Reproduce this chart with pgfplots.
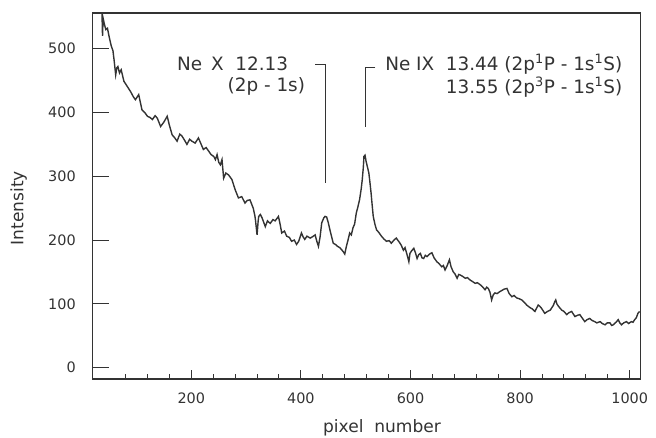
\documentclass[border=0pt]{standalone}
\usepackage{fontspec}
\setmainfont{DejaVu Sans}
\usepackage{pgfplots}
\pgfplotsset{compat=1.18}
\definecolor{ink}{gray}{0.2}

\begin{document}
\begin{tikzpicture}
\begin{axis}[
    scale only axis,
    width=411pt, height=274.5pt,
    xmin=20, xmax=1020,
    ymin=-18, ymax=556,
    axis line style={ink, line width=0.8pt},
    xtick={200,400,...,1000},
    minor xtick={80,120,...,960},
    ytick={0,100,...,500},
    xtick pos=bottom, ytick pos=left,
    tick align=inside,
    tick style={ink, line width=0.75pt},
    xtick style={/pgfplots/major tick length=6.75pt, /pgfplots/minor tick length=3.5pt},
    ytick style={/pgfplots/major tick length=12pt},
    /pgf/number format/assume math mode=true,
    /pgf/number format/1000 sep={},
    ticklabel style={font=\fontsize{10.8}{13}\selectfont, text=ink, inner sep=0pt},
    yticklabel style={xshift=-12.5pt},
    xticklabel style={yshift=-10.5pt},
    xlabel={pixel\ \ number},
    ylabel={Intensity},
    label style={font=\fontsize{12.8}{15}\selectfont, text=ink},
    xlabel style={at={(axis description cs:0.528,-0.1475)}, anchor=base},
    ylabel style={at={(axis description cs:-0.1265,0.467)}, anchor=base},
]
\addplot[ink, line width=1.05pt] coordinates {
(37,556) (38,520) (39,548) (41,540) (44,530) (47,532) (50,519) (54,504)
(57,497) (59,483) (62,459) (64,470) (66,472) (69,462) (72,467) (77,449)
(83,441) (89,433) (94,425) (98,420) (104,428) (110,404) (115,400) (120,394)
(125,392) (129,389) (134,395) (138,391) (144,378) (150,385) (156,394) (160,380)
(165,365) (170,360) (174,355) (179,366) (183,363) (188,356) (192,350) (197,358)
(201,355) (207,352) (213,360) (218,350) (222,342) (227,345) (232,339) (236,334)
(241,331) (244,326) (247,334) (250,322) (253,318) (256,326) (259,297) (263,305)
(268,302) (274,295) (280,279) (286,266) (292,268) (298,258) (302,262) (307,263)
(313,250) (316,238) (317,232) (320,208) (322,230) (323,237) (326,240) (329,235)
(332,228) (335,221) (339,230) (344,226) (349,232) (353,230) (359,237) (362,225)
(365,211) (370,214) (374,206) (379,204) (383,198) (388,200) (392,193) (396,198)
(401,211) (404,205) (407,201) (411,206) (417,203) (421,205) (426,208) (429,198)
(432,190) (435,205) (438,227) (442,235) (444,237) (447,236) (450,227) (454,212)
(459,195) (463,193) (467,190) (471,188) (477,182) (480,178) (483,190) (486,200)
(489,211) (492,208) (495,219) (498,225) (501,242) (504,252) (507,263) (510,280)
(512,295) (514,315) (515,331) (517,333) (519,323) (521,316) (524,305) (526,290)
(528,274) (530,255) (532,237) (535,225) (538,216) (542,212) (547,206) (551,202)
(556,198) (561,199) (565,195) (570,200) (574,203) (580,196) (583,192) (587,184)
(590,188) (594,176) (597,166) (599,179) (602,183) (606,187) (609,180) (612,171)
(615,177) (618,179) (621,172) (624,171) (627,176) (630,174) (635,178) (639,180)
(643,172) (648,166) (652,163) (657,158) (660,160) (663,153) (667,160) (671,169)
(674,158) (678,150) (681,147) (685,140) (688,146) (691,145) (695,143) (700,140)
(704,141) (709,137) (713,135) (718,132) (722,133) (727,130) (731,127) (736,122)
(739,126) (742,124) (745,118) (748,106) (751,114) (754,117) (758,116) (763,119)
(767,121) (771,123) (776,124) (780,116) (785,111) (789,113) (794,109) (798,108)
(803,106) (808,102) (812,98) (818,94) (822,92) (827,88) (830,93) (833,98)
(836,96) (839,93) (842,89) (845,85) (850,88) (855,90) (858,94) (861,98)
(863,103) (865,106) (867,100) (870,96) (873,93) (876,90) (880,88) (885,83)
(889,86) (894,88) (897,84) (900,80) (905,82) (909,83) (913,78) (918,72)
(922,75) (927,77) (931,74) (936,72) (940,70) (946,72) (950,69) (955,67)
(959,70) (964,70) (967,66) (970,67) (975,71) (979,75) (982,70) (985,67)
(989,70) (994,72) (998,69) (1003,72) (1006,71) (1009,75) (1012,78) (1015,85)
(1018,88)
};
% line identifications
\draw[ink, line width=0.75pt] (axis cs:426.4,474.5) -- (axis cs:444.6,474.5) -- (axis cs:444.6,290);
\draw[ink, line width=0.75pt] (axis cs:535.7,471) -- (axis cs:517.5,471) -- (axis cs:517.5,377);
\begin{scope}[every node/.style={font=\fontsize{13.8}{16}\selectfont, text=ink, inner sep=0pt}]
\node[anchor=base east] at (axis cs:377,466.6) {Ne\ \,X\ \ 12.13};
\node[anchor=base east] at (axis cs:408,432.6) {(2p - 1s)};
\node[anchor=base east] at (axis cs:987,466.6) {Ne IX\ \ 13.44 (2p\textsuperscript{1}P - 1s\textsuperscript{1}S)};
\node[anchor=base east] at (axis cs:987,430) {13.55 (2p\textsuperscript{3}P - 1s\textsuperscript{1}S)};
\end{scope}
\end{axis}
\pgfresetboundingbox
\path[use as bounding box] ([shift={(-69.5pt,-43.5pt)}]current axis.south west)
    rectangle ([shift={(11.5pt,9.75pt)}]current axis.north east);
\end{tikzpicture}
\end{document}
